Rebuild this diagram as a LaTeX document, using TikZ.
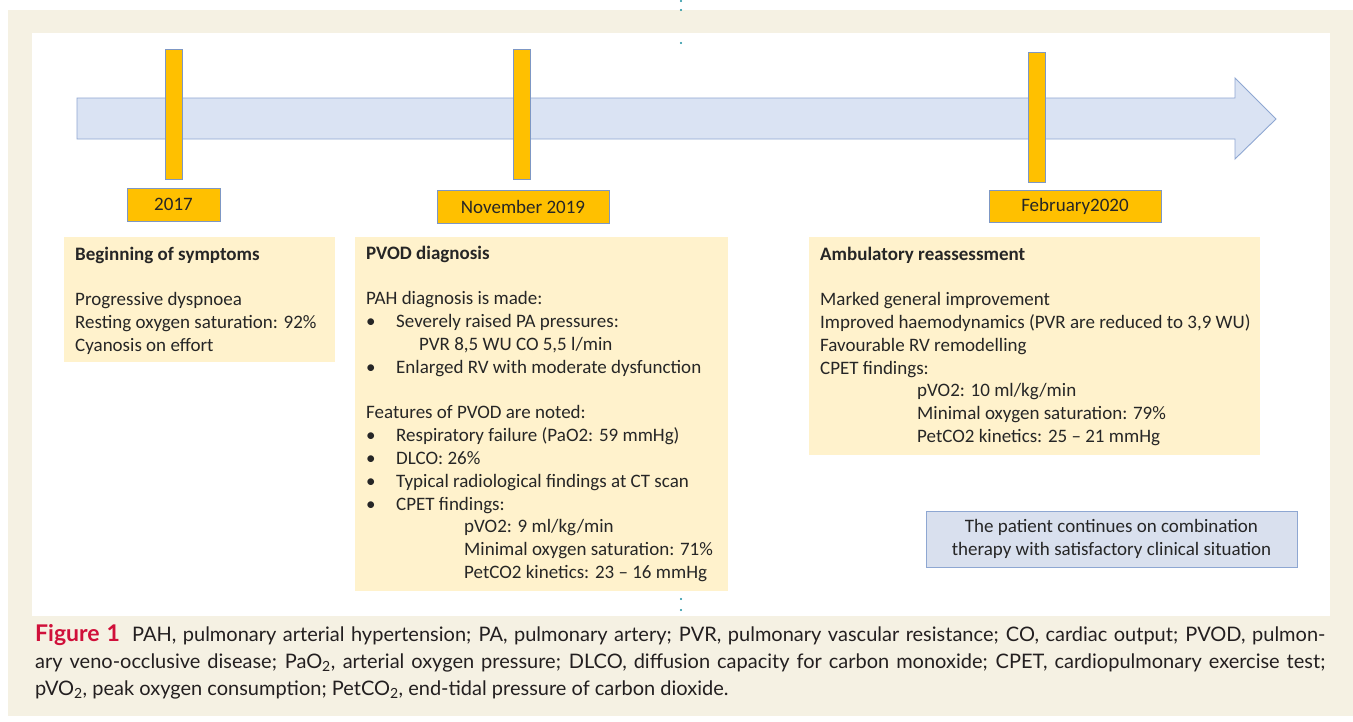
\documentclass[tikz,border=0pt]{standalone}
\usepackage{fontspec}
\setmainfont{Carlito}
\newfontfamily\capfont{Lato}
\definecolor{pagebg}{HTML}{F5F1E3}
\definecolor{boxcream}{HTML}{FFF2CC}
\definecolor{arrowfill}{HTML}{DAE3F3}
\definecolor{arrowline}{HTML}{8EA7D2}
\definecolor{barfill}{HTML}{FFC000}
\definecolor{barline}{HTML}{7D97C4}
\definecolor{notefill}{HTML}{D9E0EE}
\definecolor{txt}{HTML}{262626}
\definecolor{figred}{HTML}{D0103A}
\definecolor{captxt}{HTML}{231F20}
\definecolor{dotcol}{HTML}{1A8FA0}
\begin{document}
\begin{tikzpicture}[x=1pt,y=-1pt,
  bar/.style={draw=barline, line width=0.9pt, fill=barfill, minimum width=17pt, minimum height=130pt, inner sep=0pt},
  datebox/.style={draw=barline, line width=0.9pt, fill=barfill, inner sep=0pt, text=txt, font=\fontsize{19}{23}\selectfont},
  infobox/.style={fill=boxcream, inner sep=0pt, anchor=north west},
  infotext/.style={anchor=base west, inner sep=0pt, align=left, text=txt, font=\fontsize{19}{22.8}\selectfont},
  notebox/.style={draw=arrowline, line width=0.9pt, fill=notefill, inner sep=0pt, align=center, text=txt, font=\fontsize{19}{23}\selectfont},
  dot/.style={circle, fill=dotcol, inner sep=0pt, minimum size=2.4pt}]
\useasboundingbox (0,0) rectangle (1353,721);
% background panels
\fill[pagebg] (8,10) rectangle (1353,716);
\fill[white] (32,33) rectangle (1330,616);
% timeline arrow
\draw[arrowline, fill=arrowfill, line width=0.9pt, line join=miter]
  (77,98) -- (1235,98) -- (1235,78) -- (1276,119) -- (1235,159) -- (1235,139) -- (77,139) -- cycle;
% bars
\node[bar] (b1) at (173.5,114) {};
\node[bar] (b2) at (521.5,114) {};
\node[bar] (b3) at (1036.5,117) {};
% date labels
\node[datebox, minimum width=93pt, minimum height=33pt] (d1) at (173.5,204.5) {2017};
\node[datebox, minimum width=172pt, minimum height=33pt] (d2) at (523,206.5) {November 2019};
\node[datebox, minimum width=172pt, minimum height=32pt] (d3) at (1075,206.5) {February2020};
% info boxes
\node[infobox, minimum width=271pt, minimum height=125pt] (i1) at (64,237) {};
\node[infobox, minimum width=373pt, minimum height=354pt] (i2) at (355,237) {};
\node[infobox, minimum width=451pt, minimum height=218pt] (i3) at (809,237) {};
% text (anchor = baseline of last line)
\node[infotext] (t1) at (75,351.2) {\textbf{Beginning of symptoms}\\[22.8pt]
Progressive dyspnoea\\
Resting oxygen saturation: 92\%\\
Cyanosis on effort};
\node[infotext] (t2) at (366,578.5) {\textbf{PVOD diagnosis}\\[22.8pt]
PAH diagnosis is made:\\
\makebox[30pt][l]{•}Severely raised PA pressures:\\
\hspace*{53pt}PVR 8,5 WU CO 5,5 l/min\\
\makebox[30pt][l]{•}Enlarged RV with moderate dysfunction\\[22.8pt]
Features of PVOD are noted:\\
\makebox[30pt][l]{•}Respiratory failure (PaO2: 59 mmHg)\\
\makebox[30pt][l]{•}DLCO: 26\%\\
\makebox[30pt][l]{•}Typical radiological findings at CT scan\\
\makebox[30pt][l]{•}CPET findings:\\
\hspace*{98pt}pVO2: 9 ml/kg/min\\
\hspace*{98pt}Minimal oxygen saturation: 71\%\\
\hspace*{98pt}PetCO2 kinetics: 23 – 16 mmHg};
\node[infotext] (t3) at (820,442.4) {\textbf{Ambulatory reassessment}\\[22.8pt]
Marked general improvement\\
Improved haemodynamics (PVR are reduced to 3,9 WU)\\
Favourable RV remodelling\\
CPET findings:\\
\hspace*{97pt}pVO2: 10 ml/kg/min\\
\hspace*{97pt}Minimal oxygen saturation: 79\%\\
\hspace*{97pt}PetCO2 kinetics: 25 – 21 mmHg};
% note box
\node[notebox, minimum width=371pt, minimum height=56pt] (n1) at (1111.5,539) {The patient continues on combination\\therapy with satisfactory clinical situation};
% small marks
\node[dot] (m1) at (681,1) {};
\node[dot] (m2) at (681,10) {};
\node[dot] (m3) at (681,43) {};
\node[dot] (m4) at (681,599) {};
\node[dot] (m5) at (681,610) {};
% caption
\node[anchor=base west, inner sep=0pt, text width=1290pt, align=justify, text=captxt,
  font=\capfont\fontsize{20}{27}\selectfont] (cap) at (35,641)
 {{\color{figred}\fontsize{23}{27}\selectfont\bfseries Figure 1}\hspace{12pt}PAH, pulmonary arterial hypertension; PA, pulmonary artery; PVR, pulmonary vascular resistance; CO, cardiac output; PVOD, pulmon-\linebreak ary veno-occlusive disease; PaO\textsubscript{2}, arterial oxygen pressure; DLCO, diffusion capacity for carbon monoxide; CPET, cardiopulmonary exercise test;\linebreak pVO\textsubscript{2}, peak oxygen consumption; PetCO\textsubscript{2}, end-tidal pressure of carbon dioxide.};
\end{tikzpicture}
\end{document}
